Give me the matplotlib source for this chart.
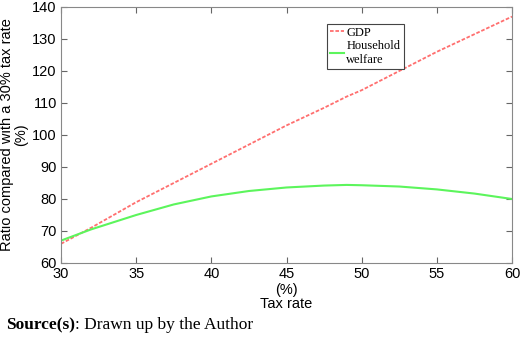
import matplotlib.pyplot as plt

tax_rate = [30, 32, 35, 37.5, 40, 42.5, 45, 47.5, 49, 50, 52.5, 55, 57.5, 60]
gdp = [66, 71, 79, 85, 91, 97, 103, 108.5, 112, 114, 120, 126, 131.5, 137]
welfare = [67, 70.5, 75, 78.3, 80.8, 82.5, 83.6, 84.2, 84.4, 84.3, 83.9, 83, 81.7, 80]

plt.rcParams['font.family'] = ['Liberation Sans', 'DejaVu Sans']

fig = plt.figure(figsize=(5.2, 3.37), dpi=100)
ax = fig.add_axes([61 / 520, 1 - 263 / 337, 451 / 520, 256 / 337])

ax.plot(tax_rate, gdp, color='#ff6f6f', linestyle=(0, (2, 1)), linewidth=1.3, label='GDP')
ax.plot(tax_rate, welfare, color='#5cf55c', linewidth=1.5, label='Household\nwelfare')

ax.set_xlim(30, 60)
ax.set_ylim(60, 140)
ax.set_xticks(range(30, 61, 5))
ax.set_yticks(range(60, 141, 10))
ax.tick_params(direction='in', top=True, right=True, length=4, labelsize=10.5,
               color='#666666', pad=3)
for s in ax.spines.values():
    s.set_color('#888888')

ax.set_xlabel('(%)\nTax rate', fontsize=10.5, labelpad=1, linespacing=1.0)
ax.set_ylabel('Ratio compared with a 30% tax rate\n(%)', fontsize=10.5, labelpad=3,
              linespacing=1.0)

leg = ax.legend(loc='upper left', bbox_to_anchor=(0.59, 0.935), fancybox=False,
                prop={'family': 'Liberation Serif', 'size': 9}, handlelength=1.1,
                handletextpad=0.2, borderpad=0.25, labelspacing=0.1, framealpha=1,
                borderaxespad=0)
leg.get_frame().set_edgecolor('#444444')
leg.get_frame().set_linewidth(0.8)

ypos = 1 - 325 / 337
fig.canvas.draw()
src = fig.text(0.012, ypos, 'Source(s)', fontsize=12.5, family='Liberation Serif',
               weight='bold', va='center')
bb = src.get_window_extent(fig.canvas.get_renderer())
fig.text(bb.x1 / fig.bbox.width, ypos, ': Drawn up by the Author', fontsize=12.5,
         family='Liberation Serif', va='center')

fig.savefig('out.png', dpi=100)
